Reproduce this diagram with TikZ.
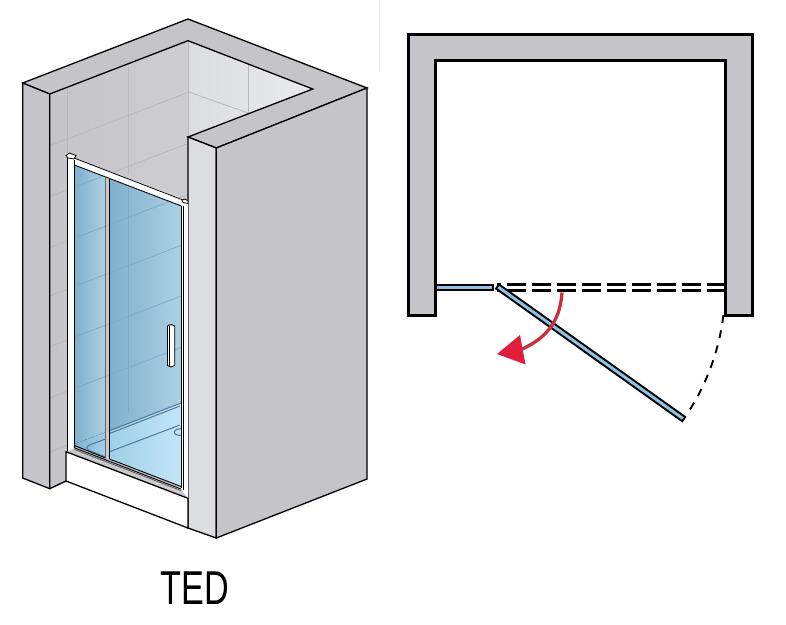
\documentclass[tikz,border=0pt]{standalone}
\usepackage{fontspec}
\setmainfont{Liberation Sans}
\definecolor{wallgrey}{HTML}{C5C4C8}
\definecolor{pillarface}{HTML}{DCDDE0}
\definecolor{tileline}{HTML}{B8B9BC}
\definecolor{glassline}{HTML}{7FA9C2}
\definecolor{trayline}{HTML}{4A7A98}
\definecolor{doorblue}{HTML}{8FC3E3}
\definecolor{glassdark}{HTML}{80B0CC}
\definecolor{glasslight}{HTML}{ABD0E4}
\definecolor{floordark}{HTML}{7FB3D0}
\definecolor{floormid}{HTML}{A0CFE8}
\definecolor{floorlight}{HTML}{C2E5F7}
\definecolor{redarrow}{HTML}{E01F3D}
\definecolor{redstem}{HTML}{C9303F}
\tikzset{
  outline/.style={draw=black,line width=1.3pt,line join=miter},
  tile/.style={draw=tileline,line width=0.8pt},
  gtile/.style={draw=glassline,line width=0.7pt},
  tray/.style={draw=trayline,line width=1pt},
  thin frame/.style={draw=black,line width=0.8pt},
  plan/.style={draw=black,line width=3pt,line join=miter},
  panel/.style={draw=black,line width=1.9pt,fill=doorblue,line join=miter},
}
\begin{document}
\begin{tikzpicture}[x=1pt,y=-1pt]
\useasboundingbox (0,0) rectangle (786,624);
\fill[white] (0,0) rectangle (786,624);
\draw[draw=black!6,line width=1pt] (379.5,0) -- (379.5,73);
% back walls
\fill[left color=wallgrey,right color=wallgrey!85!white] (49.7,94) -- (188,40.7) -- (188,500) -- (66,481.7) -- (49.7,488.7) -- cycle;
\fill[left color=pillarface,right color=pillarface!60!white] (188,40.7) -- (312.7,89) -- (188,137) -- cycle;
% tile grid
\draw[tile] (188,40.7) -- (188,137);
\draw[tile] (248,64) -- (248,113);
\draw[tile] (128,64) -- (128,175);
\draw[tile] (67.7,87) -- (67.7,160);
\draw[tile] (188,91.7) -- (248,113);
\foreach \yy in {145.7,196.7,247.7,296,346.7,398,452}{
  \draw[tile] (49.7,\yy) -- (188,{\yy-53.3});
}
% top ring and outer faces
\filldraw[outline,fill=wallgrey] (22.7,83) -- (188,19) -- (367,88) -- (216.3,148) -- (188,137) -- (312.7,89) -- (188,40.7) -- (49.7,94) -- cycle;
\filldraw[outline,fill=wallgrey] (22.7,83) -- (49.7,94) -- (49.7,488.7) -- (22.7,478) -- cycle;
\filldraw[outline,fill=pillarface] (188,137) -- (216.3,148) -- (216.3,538) -- (188,528) -- cycle;
\filldraw[outline,fill=wallgrey] (216.3,148) -- (367,88) -- (367,479) -- (216.3,538) -- cycle;
% step under the door
\filldraw[outline,fill=white] (66,451.7) -- (188,498.3) -- (188,528) -- (66,481) -- cycle;
\draw[outline] (66,481) -- (49.7,488.7);
% door white frame
\fill[white] (67.5,155) -- (74.5,158) -- (188,201) -- (188,498) -- (181,489) -- (181,206) -- (74.5,165) -- (74.5,448) -- (67.5,451) -- cycle;
% glass panes
\fill[left color=glassdark,right color=glasslight] (74.5,165.5) -- (105.5,177.5) -- (105.5,458) -- (74.5,445.5) -- cycle;
\fill[left color=glassdark,right color=glasslight] (109.5,179) -- (181,206.5) -- (181,486.5) -- (109.5,459) -- cycle;
% glass tile lines, kept inside the panes
\begin{scope}
\clip (74.5,165.5) -- (105.5,177.5) -- (105.5,458) -- (74.5,445.5) -- cycle;
\foreach \yy in {196.7,247.7,296,346.7,398}{
  \draw[gtile] (49.7,\yy) -- (188,{\yy-53.3});
}
\end{scope}
\begin{scope}
\clip (109.5,179) -- (181,206.5) -- (181,486.5) -- (109.5,459) -- cycle;
\foreach \yy in {196.7,247.7,296,346.7,398}{
  \draw[gtile] (49.7,\yy) -- (188,{\yy-53.3});
}
\end{scope}
\draw[gtile] (128,186.5) -- (128,413);
% floor seen through glass
\fill[left color=floordark,right color=floormid] (74.5,444) -- (105.5,432.4) -- (105.5,458) -- (74.5,445.5) -- cycle;
\fill[left color=floormid,right color=floorlight] (109.5,430.7) -- (181,403) -- (181,486.5) -- (109.5,459) -- cycle;
\draw[tray] (109.5,430.7) -- (181,403);
\draw[tray] (109.5,433.5) -- (180,406);
\draw[tray] (109.5,451.7) -- (180,425);
\draw[tray] (105.5,439) -- (92,444) .. controls (85,446.5) and (85,449) .. (92,451.7) -- (105.5,457);
\draw[tray] (181,428.5) .. controls (176,429) and (173,431) .. (175,434) .. controls (176,435) and (179,435.5) .. (181,435.5);
% threshold lines
\draw[line width=0.9pt] (74.5,445.5) -- (105.5,458);
\draw[line width=0.9pt] (109.5,459) -- (181,486.5);
\draw[line width=0.9pt] (74.5,447.8) -- (181,489);
\draw[line width=0.7pt,draw=black!70] (74.5,449.5) -- (181,490.5);
% door frame lines
\draw[thin frame] (67.5,155) -- (67.5,451);
\draw[thin frame] (74.3,160) -- (74.3,448);
\draw[thin frame] (74,158) -- (183,200);
\draw[thin frame] (74.5,165) -- (181.5,206);
\draw[line width=0.5pt,draw=black!60] (105.3,177) -- (105.3,458);
\draw[thin frame] (109.5,178.5) -- (109.5,459);
\draw[thin frame] (181,206) -- (181,488);
\draw[line width=0.6pt] (182.8,206) -- (182.8,490);
% top brackets
\filldraw[draw=black,line width=0.8pt,fill=white] (66,155.5) -- (69.5,153) -- (76,155.5) -- (74,159) -- (68,158) -- cycle;
\filldraw[draw=black,line width=0.8pt,fill=white] (182,200) -- (185,199) -- (188,201) -- (188,203.5) -- (183,202.5) -- cycle;
% handle
\filldraw[draw=black,line width=0.9pt,fill=white] (167.5,326) -- (171,324.5) -- (174.7,326) -- (174.7,365.5) -- (171,367) -- (167.5,365.5) -- cycle;
\draw[draw=black,line width=0.5pt] (169.5,326) -- (169.5,366);
% caption
\node (caption) [anchor=center,inner sep=0pt,xscale=0.72,transform shape,font=\fontsize{47.5}{50}\selectfont] at (194.5,588) {TED};
% plan view
\filldraw[plan,fill=wallgrey] (408.5,34) -- (752,34) -- (752,315) -- (725,315) -- (725,60.5) -- (435.5,60.5) -- (435.5,315) -- (408.5,315) -- cycle;
% fixed panel
\filldraw[panel] (436,285) rectangle (493,290);
% swept closed position
\draw[draw=black,line width=2.6pt,dash pattern=on 18.5pt off 6.5pt,dash phase=15] (497,284.5) -- (725,284.5);
\draw[draw=black,line width=2.6pt,dash pattern=on 18.5pt off 6.5pt,dash phase=15] (497,290.5) -- (725,290.5);
% swing arc
\coordinate (hinge) at (497,288);
\draw[draw=black,line width=1.9pt,dash pattern=on 8pt off 7.5pt] (hinge) ++(6.8:228) arc[start angle=6.8,end angle=33.5,radius=228];
% open door
\filldraw[panel] (496,288.6) -- (499,284.4) -- (685.2,417) -- (682.2,421.2) -- cycle;
% red arrow
\draw[draw=redstem,line width=3.3pt] (562,292.5) .. controls (560,323) and (545,339) .. (520,350);
\fill[redarrow] (497,354) -- (520,335) -- (525.5,364.5) -- cycle;
\end{tikzpicture}
\end{document}
